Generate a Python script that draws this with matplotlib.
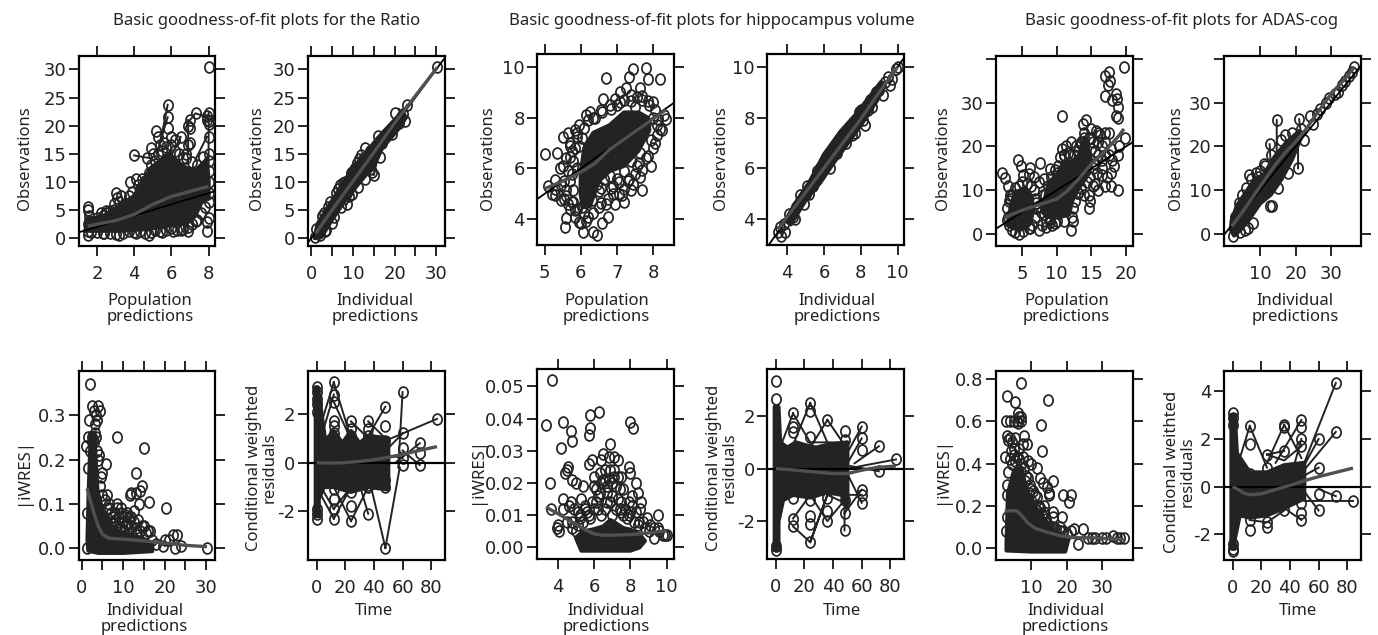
import matplotlib
matplotlib.use("Agg")
import matplotlib.pyplot as plt
from matplotlib.path import Path
from matplotlib.transforms import Affine2D

nan = float("nan")

W, H = 1378, 635
DARK = "#232323"
LOESS = "#505050"

# ---- Ratio, population predictions
p1_x = [1.5, 1.5, 1.5, 1.6, 1.5, 2.0, 2.3, 2.5, 2.7, 2.9, 3.0, 3.1, 3.3, 3.5, 3.8, 4.0, 4.1, 4.4, 4.7, 4.9, 5.0, 5.1, 5.2, 5.3,
        5.4, 5.6, 5.7, 5.8, 5.8, 5.8, 6.0, 6.2, 6.5, 6.8, 6.9, 6.9, 7.0, 7.0, 7.3, 7.9, 7.9, 8.0, 8.0, 8.0, 8.0, 8.0,
        8.0, 8.0, 7.9, 7.9, 8.0, 7.3, 6.9, 6.1, 4.8, 4.1, 3.2, 2.4, 1.5, 7.0, 7.6, 6.5, 5.5]
p1_y = [5.5, 5.0, 0.6, 3.0, 1.2, 3.5, 3.9, 4.5, 4.9, 5.0, 8.0, 7.2, 7.4, 6.0, 10.0, 14.7, 10.5, 10.5, 14.2, 16.0, 15.0, 12.0,
        19.0, 18.0, 16.5, 17.0, 14.0, 23.7, 21.5, 19.5, 18.0, 17.5, 18.0, 15.0, 16.5, 20.0, 21.0, 19.5, 22.2, 21.8, 21.0,
        22.3, 20.9, 20.3, 18.0, 15.0, 13.8, 30.4, 1.3, 2.8, 3.6, 3.0, 1.3, 1.2, 0.6, 0.9, 0.6, 0.9, 2.5, 17.0, 12.0, 1.5, 1.1]
p1_more_x = [2.2, 2.5, 2.8, 3.2, 3.4, 3.7, 3.9, 4.2, 4.3, 4.6, 4.8, 4.9, 5.1, 5.3, 5.5, 5.7, 6.0, 6.2, 6.4, 6.6, 6.8, 7.1, 7.4, 7.7, 8.0,
             8.0, 8.0, 8.0, 7.8, 7.6, 7.4, 7.1, 6.9, 6.6, 6.3, 6.0, 5.7, 5.4, 5.1, 4.9, 4.6, 4.3, 4.0, 3.7, 3.4, 3.0, 2.7, 2.3, 2.0, 1.7,
             1.6, 2.9, 3.6, 7.5]
p1_more_y = [4.4, 4.8, 4.4, 6.5, 5.2, 7.5, 8.2, 9.5, 8.8, 10.2, 11.5, 13.0, 13.8, 15.0, 15.5, 16.2, 16.5, 15.5, 15.0, 14.2, 14.2, 13.5, 13.0, 14.5, 12.0,
             10.0, 8.0, 6.5, 5.5, 4.5, 3.2, 2.5, 2.0, 1.6, 1.5, 1.8, 1.5, 1.3, 1.4, 1.0, 0.9, 1.3, 1.1, 1.2, 0.9, 0.7, 0.9, 0.9, 1.0, 1.0,
             4.0, 6.0, 4.6, 8.0]
p1_seg_x = [5.8, 5.4, nan, 4.0, 4.9, nan, 6.5, 5.9, nan, 6.9, 6.9, nan, 7.0, 7.3, 7.9, nan, 7.9, 7.3, nan, 5.8, 5.2, nan, 8.0, 8.0]
p1_seg_y = [23.7, 17.0, nan, 14.7, 14.2, nan, 18.0, 14.0, nan, 21.0, 15.0, nan, 21.0, 22.2, 21.5, nan, 18.0, 14.0, nan, 21.5, 15.0, nan, 22.3, 13.0]
p1_dense_x = [1.4, 1.5, 2.3, 3.1, 4.0, 4.9, 5.5, 5.9, 6.3, 6.8, 7.3, 7.9, 8.0, 8.0, 7.6, 7.3, 6.8, 5.8, 4.7, 3.1, 1.6]
p1_dense_y = [1.3, 3.4, 3.8, 5.5, 7.5, 12.5, 14.0, 15.0, 13.5, 12.5, 12.0, 14.0, 10.3, 7.0, 6.5, 4.0, 2.6, 2.2, 1.6, 1.3, 1.3]
p1_loess_x = [1.5, 2.2, 3.0, 4.0, 5.0, 6.0, 7.0, 8.0]
p1_loess_y = [2.1, 2.6, 3.1, 4.2, 6.0, 7.4, 8.3, 9.2]

# ---- Ratio, individual predictions
p2_x = [23.0, 20.2, 21.5, 22.4, 30.3, 16.0, 15.0, 14.6, 8.5, 5.0, 13.0, 11.5, 6.0, 18.0, 19.5, 21.0, 12.0, 10.0, 7.0, 4.0, 3.0, 2.0, 1.0, 1.2, 17.0, 13.5, 9.0, 3.5, 22.0, 16.5,
        4.5, 6.5, 7.5, 8.0, 9.5, 10.5, 11.0, 12.5, 14.0, 2.5, 3.2, 5.5, 7.2, 9.8, 11.2, 12.8, 14.2]
p2_y = [23.7, 22.2, 21.5, 20.8, 30.4, 18.2, 11.2, 11.8, 6.0, 2.6, 16.0, 14.0, 8.0, 18.5, 18.5, 20.5, 14.8, 12.0, 9.5, 5.5, 4.5, 0.5, 0.2, 1.6, 17.0, 13.0, 7.5, 1.5, 22.0, 14.5,
        6.5, 8.7, 9.8, 10.0, 11.5, 12.5, 13.3, 14.0, 15.5, 4.0, 1.2, 3.8, 5.5, 7.8, 9.0, 10.5, 12.3]
p2_seg_x = [15.0, 16.5, nan, 22.4, 21.0, nan, 23.0, 21.0, nan, 8.5, 10.0]
p2_seg_y = [11.2, 16.0, nan, 20.8, 23.0, nan, 23.7, 21.0, nan, 6.0, 8.0]
p2_dense_x = [0.8, 2.4, 5.0, 8.0, 12.0, 15.0, 17.0, 21.0, 22.5, 22.0, 20.0, 16.0, 13.0, 10.0, 7.0, 4.0, 1.5]
p2_dense_y = [0.0, 0.2, 3.3, 6.6, 10.3, 12.8, 16.0, 19.5, 21.5, 22.5, 21.0, 17.8, 15.0, 12.5, 9.0, 5.5, 2.5]
p2_loess_x = [1.0, 5.0, 10.0, 15.0, 20.0, 25.0, 30.3]
p2_loess_y = [0.8, 5.0, 10.1, 15.2, 20.4, 25.3, 30.4]

# ---- Hippocampus, population predictions
p3_x = [5.0, 5.35, 5.43, 5.5, 5.65, 5.1, 5.3, 5.3, 5.45, 5.6, 5.6, 5.57, 5.85, 6.07, 6.35, 6.45, 6.6, 6.75, 6.95, 6.75, 7.2, 7.4, 7.7,
        7.7, 8.0, 8.2, 8.35, 8.2, 7.8, 7.45, 7.35, 7.85, 6.7, 6.63, 6.95, 7.25, 7.65, 6.15, 5.95, 5.9, 5.7, 5.75, 5.8, 6.03,
        6.35, 6.55, 5.55, 5.6, 5.2, 5.45, 5.75, 5.85, 6.1, 6.3, 6.5, 6.85, 7.05, 7.35, 7.55, 7.8, 7.95, 8.1, 8.25, 8.3, 7.9,
        7.5, 7.1, 6.85, 6.6, 6.4, 7.1, 7.4, 7.7, 7.85, 8.05, 8.15, 6.9, 7.15, 7.45, 7.65, 5.95, 5.7, 5.9, 6.2, 6.05, 6.0]
p3_y = [6.56, 6.6, 6.0, 7.25, 7.4, 5.3, 5.55, 4.95, 4.75, 4.9, 4.05, 3.7, 4.1, 3.5, 3.5, 3.4, 3.85, 4.1, 4.6, 4.8, 4.7, 5.15, 5.15,
        5.95, 6.8, 7.55, 7.95, 9.5, 9.95, 9.9, 9.6, 9.5, 9.55, 8.75, 8.75, 9.15, 9.15, 8.1, 7.7, 7.25, 6.45, 5.8, 5.15, 4.5,
        4.25, 4.65, 4.8, 5.15, 5.0, 5.35, 4.7, 4.35, 4.25, 4.75, 5.1, 5.25, 5.45, 5.6, 6.1, 6.4, 7.1, 7.3, 7.5, 8.1, 8.5,
        8.4, 8.6, 8.35, 8.2, 8.0, 9.0, 8.9, 8.85, 8.65, 8.3, 7.95, 5.0, 4.95, 5.4, 5.65, 6.9, 6.9, 7.4, 7.9, 6.0, 3.85]
p3_more_x = [5.7, 5.85, 5.8, 5.65, 5.9, 5.55, 5.7, 5.8, 5.9, 5.7, 5.95, 6.2, 6.5, 6.7, 6.9, 7.05, 7.2, 7.3, 7.5, 7.6, 7.85, 7.95, 8.05, 8.1,
             8.0, 8.0, 7.7, 7.55, 7.4, 7.2, 7.0, 6.8, 6.55, 6.35, 6.25, 6.1, 6.05, 5.85, 5.75, 5.6, 5.5, 5.3, 5.65, 6.15, 6.55, 6.3,
             6.25, 6.45, 6.65, 6.8, 7.0, 7.2, 7.4, 7.65, 7.8]
p3_more_y = [7.0, 6.8, 6.3, 5.9, 6.0, 5.5, 5.5, 4.7, 4.4, 4.4, 3.9, 4.1, 4.5, 4.6, 5.3, 5.0, 5.2, 5.5, 5.8, 6.2, 6.5, 6.1, 7.0, 7.7,
             8.0, 8.6, 8.7, 8.8, 8.65, 8.7, 8.5, 8.5, 8.3, 8.0, 8.2, 7.6, 7.2, 7.5, 6.7, 6.4, 6.1, 5.2, 4.6, 3.95, 5.25, 5.9,
             5.5, 5.4, 5.6, 5.7, 5.6, 5.9, 6.3, 6.6, 7.8]
p3_dense_x = [6.05, 6.25, 6.5, 6.8, 7.2, 7.6, 7.9, 7.85, 7.6, 7.2, 6.8, 6.35, 6.1, 6.0, 6.0]
p3_dense_y = [4.5, 4.5, 5.5, 5.9, 6.1, 6.7, 7.5, 8.0, 8.2, 8.2, 7.7, 7.4, 6.8, 5.8, 5.0]
p3_loess_x = [5.0, 5.5, 6.0, 6.4, 6.8, 7.2, 7.6, 8.0, 8.35]
p3_loess_y = [5.2, 5.5, 5.85, 6.2, 6.75, 7.15, 7.55, 7.95, 8.3]

# ---- Hippocampus, individual predictions
p4_x = [3.5, 3.65, 3.8, 3.9, 4.5, 4.4, 5.0, 4.9, 5.8, 8.0, 8.2, 8.1, 9.0, 9.2, 9.5, 9.6, 9.9, 10.0, 9.7, 3.6, 6.9, 7.5, 5.4, 6.5, 8.6,
        4.1, 4.7, 5.2, 5.6, 6.1, 6.7, 7.2, 7.7, 8.5, 8.8, 9.3, 4.3, 5.1, 6.3, 7.0, 7.9, 8.4]
p4_y = [3.5, 3.35, 3.8, 3.5, 4.5, 4.0, 5.0, 4.6, 6.0, 8.3, 7.7, 7.9, 9.1, 8.9, 9.6, 9.3, 9.9, 10.0, 9.5, 3.7, 7.1, 7.3, 5.3, 6.6, 8.4,
        4.2, 4.95, 5.0, 5.9, 6.4, 6.6, 7.0, 7.4, 8.7, 9.0, 9.4, 4.1, 5.3, 6.0, 7.3, 8.2, 8.3]
p4_dense_x = [4.2, 5.0, 5.8, 6.5, 7.3, 8.0, 8.9, 9.3, 9.1, 8.4, 7.7, 6.9, 6.0, 5.2, 4.5, 3.9]
p4_dense_y = [3.8, 4.75, 5.45, 6.2, 7.0, 7.7, 8.7, 9.3, 9.4, 8.75, 8.1, 7.45, 6.55, 5.45, 4.7, 3.95]
p4_loess_x = [3.5, 5.0, 6.5, 8.0, 9.0, 10.0]
p4_loess_y = [3.6, 5.05, 6.5, 7.95, 9.0, 10.0]

# ---- ADAS-cog, population predictions
p5_x = [2.1, 2.6, 3.0, 3.2, 3.1, 2.8, 4.4, 4.8, 5.2, 6.0, 6.7, 7.6, 8.1, 8.0, 7.9, 9.0, 9.3, 10.0, 10.7, 10.8, 11.3, 11.9, 12.0, 13.0,
        14.0, 14.2, 13.8, 15.0, 15.6, 16.2, 17.0, 17.5, 18.7, 17.7, 17.4, 17.0, 19.7, 16.9, 17.6, 18.5, 18.0, 18.8, 18.9, 18.5,
        19.8, 19.0, 18.0, 17.9, 17.2, 16.9, 18.8, 17.9, 15.9, 15.2, 14.8, 14.7, 13.9, 12.3, 12.1, 7.5, 8.4, 6.2, 13.0, 14.6, 15.5, 16.5,
        5.5, 6.2, 7.5, 9.0, 9.8, 11.0, 12.5, 13.5, 15.0, 16.6]
p5_y = [14.0, 12.9, 11.0, 9.0, 7.5, 3.2, 17.0, 15.5, 13.5, 13.8, 13.0, 16.2, 12.5, 9.0, 2.0, 14.8, 2.0, 14.0, 27.0, 19.5, 20.0, 18.0, 21.0, 19.0,
        23.0, 26.0, 25.0, 24.0, 23.5, 22.5, 23.0, 23.0, 30.7, 35.0, 34.0, 31.5, 38.0, 36.0, 37.0, 32.0, 30.5, 29.0, 26.5, 27.0,
        22.0, 20.0, 17.0, 14.0, 13.0, 11.0, 10.0, 11.0, 10.0, 11.0, 7.5, 6.0, 9.0, 3.0, 1.0, 1.0, 1.7, 1.5, 9.5, 9.0, 11.5, 13.5,
        3.0, 15.0, 12.0, 3.5, 2.5, 18.0, 16.0, 20.5, 19.5, 17.0]
p5_more_x = [3.0, 2.9, 3.2, 3.6, 4.0, 4.5, 5.0, 5.7, 6.3, 6.7, 6.9, 7.0, 6.8, 6.4, 6.0, 5.2, 4.6, 4.0, 3.5, 3.1, 7.0, 7.5, 7.8, 8.3, 8.7, 9.2, 9.7, 10.2,
             10.5, 11.0, 11.7, 12.5, 12.8, 13.5, 14.0, 14.6, 15.2, 15.5, 16.0, 16.5, 17.0, 15.5, 15.3, 14.8, 14.3, 13.5, 13.0, 12.7, 12.3, 12.2, 11.0, 10.0,
             9.0, 8.5, 8.2, 15.8, 16.5, 17.5, 17.0, 16.0, 15.0, 16.0, 18.2, 17.8, 18.9]
p5_more_y = [4.0, 6.0, 8.0, 9.0, 10.5, 11.0, 12.0, 11.5, 11.0, 10.0, 8.0, 6.0, 4.0, 2.0, 1.5, 0.7, 0.0, 0.5, 1.0, 2.0, 7.0, 6.5, 5.0, 9.0, 11.0, 13.0, 14.7, 15.5,
             17.5, 18.0, 18.5, 18.0, 20.0, 21.0, 22.0, 22.0, 21.0, 19.0, 18.0, 20.0, 18.0, 16.0, 15.0, 13.0, 12.0, 10.5, 9.5, 7.5, 6.0, 4.0, 3.0, 3.0,
             2.7, 3.0, 4.5, 14.0, 15.0, 18.0, 21.0, 21.0, 22.0, 23.0, 15.5, 19.5, 18.0]
p5_dense_x = [3.0, 3.4, 4.0, 5.5, 6.4, 6.6, 6.2, 5.5, 4.6, 3.5, 3.0]
p5_dense_y = [3.0, 6.5, 9.5, 10.5, 8.5, 5.5, 2.5, 1.5, 1.0, 1.5, 2.0]
p5_dense2_x = [7.9, 8.8, 10.2, 11.0, 12.2, 13.2, 14.0, 14.3, 15.0, 14.7, 13.2, 12.2, 11.8, 10.2, 8.6, 8.0]
p5_dense2_y = [5.5, 11.5, 14.0, 16.5, 16.5, 18.0, 22.0, 21.0, 16.5, 14.0, 10.5, 7.5, 4.5, 3.8, 4.0, 5.0]
p5_loess_x = [2.5, 4.0, 6.0, 8.0, 10.0, 11.5, 13.0, 15.0, 17.0, 19.0, 19.7]
p5_loess_y = [3.8, 4.8, 6.0, 7.0, 8.0, 9.8, 12.3, 16.0, 19.0, 22.5, 24.0]

# ---- ADAS-cog, individual predictions
p6_x = [14.7, 12.7, 16.0, 17.0, 19.0, 21.0, 20.7, 15.0, 12.8, 13.5, 7.0, 9.0, 5.8, 21.5, 24.0, 26.0, 27.0, 28.5, 29.5, 31.0,
        32.0, 33.0, 34.0, 35.0, 36.0, 36.5, 25.0, 22.5, 2.5, 10.0, 11.5, 8.0, 18.0, 4.0, 5.0, 6.0, 7.5, 9.5, 11.0, 13.0, 3.0, 4.5, 6.5]
p6_y = [26.0, 20.5, 21.5, 22.5, 23.0, 26.2, 15.0, 10.5, 6.5, 6.5, 13.5, 14.0, 1.0, 24.0, 27.0, 27.5, 28.5, 30.0, 31.0, 32.0,
        32.5, 34.0, 35.0, 36.0, 37.0, 38.0, 25.0, 21.5, -0.5, 14.5, 15.5, 2.5, 14.0, 7.0, 9.0, 10.5, 12.5, 13.0, 16.0, 18.0, 4.0, 0.5, 1.5]
p6_seg_x = [14.7, 14.7, nan, 20.7, 20.7, nan, 21.0, 21.5, nan, 12.7, 13.0]
p6_seg_y = [26.0, 16.0, nan, 15.0, 21.0, nan, 26.2, 23.0, nan, 20.5, 16.0]
p6_dense_x = [1.8, 2.7, 4.5, 7.0, 10.0, 13.0, 16.0, 19.0, 22.0, 21.0, 17.0, 14.0, 11.0, 8.5, 6.0, 3.5, 2.0]
p6_dense_y = [1.0, -0.3, 1.0, 3.5, 7.0, 9.0, 12.5, 17.0, 23.0, 23.5, 20.5, 17.5, 13.5, 12.5, 9.5, 6.5, 3.0]
p6_loess_x = [2.0, 5.0, 8.0, 11.0, 14.0, 17.0, 20.0, 23.0, 26.0, 30.0, 34.0, 36.5]
p6_loess_y = [1.8, 5.0, 8.5, 12.0, 15.5, 18.5, 21.0, 24.0, 27.5, 32.0, 35.5, 38.0]

# ---- Ratio, iWRES
p7_x = [2.0, 2.5, 1.8, 3.0, 4.0, 4.3, 3.5, 3.3, 3.8, 1.0, 1.5, 2.5, 4.0, 5.0, 5.9, 8.5, 15.0, 13.2, 14.6, 12.0, 11.7, 8.6, 9.5,
        11.0, 12.5, 13.0, 14.0, 16.3, 13.8, 20.2, 22.0, 23.0, 20.0, 21.0, 30.2, 16.0, 17.0, 15.0, 10.0, 8.0, 7.5, 6.5, 6.0, 9.0,
        10.5, 11.5, 12.0, 7.0, 8.5, 13.0, 18.0, 19.5, 22.5, 24.0, 1.3]
p7_y = [0.37, 0.32, 0.29, 0.31, 0.32, 0.31, 0.30, 0.28, 0.29, 0.23, 0.25, 0.25, 0.2, 0.17, 0.19, 0.25, 0.225, 0.17, 0.14, 0.125, 0.12, 0.1, 0.09,
        0.08, 0.085, 0.125, 0.13, 0.105, 0.1, 0.09, 0.03, 0.03, 0.02, 0.02, 0.0, 0.04, 0.02, 0.05, 0.07, 0.08, 0.055, 0.09, 0.12, 0.06,
        0.05, 0.045, 0.07, 0.04, 0.03, 0.03, 0.01, 0.005, 0.0, 0.005, 0.0]
p7_more_x = [4.5, 5.0, 5.5, 6.0, 6.5, 7.0, 7.5, 8.0, 8.5, 9.0, 9.5, 10.0, 10.5, 11.0, 11.5, 12.0, 12.5, 13.0, 13.5, 14.0, 14.5, 15.5, 16.5, 5.2, 6.2, 7.2,
             8.2, 9.2, 10.2, 11.2, 3.0, 3.5, 4.2, 1.2, 1.5, 2.0, 2.4, 3.2, 3.8, 4.6]
p7_more_y = [0.14, 0.12, 0.11, 0.09, 0.1, 0.08, 0.07, 0.065, 0.09, 0.07, 0.08, 0.06, 0.075, 0.055, 0.07, 0.05, 0.06, 0.045, 0.065, 0.04, 0.05, 0.035, 0.04, 0.07, 0.06,
             0.06, 0.05, 0.045, 0.04, 0.035, 0.24, 0.25, 0.21, 0.08, 0.18, 0.22, 0.24, 0.26, 0.22, 0.16]
p7_dense_x = [1.4, 1.7, 2.2, 3.0, 3.8, 5.0, 7.0, 10.0, 14.0, 17.0, 17.0, 10.0, 4.0, 1.6]
p7_dense_y = [0.02, 0.13, 0.26, 0.26, 0.13, 0.085, 0.05, 0.032, 0.025, 0.012, -0.006, -0.01, -0.01, -0.005]
p7_loess_x = [1.3, 2.0, 3.0, 4.0, 5.0, 6.5, 10.0, 15.0, 20.0, 25.0, 30.2]
p7_loess_y = [0.135, 0.11, 0.078, 0.05, 0.032, 0.023, 0.021, 0.017, 0.012, 0.007, 0.004]

# ---- Ratio, conditional weighted residuals
p8_x = [0, 0, 0, 0, 0, 0, 12, 12, 12, 12, 12, 12, 12, 12, 24, 24, 24, 24, 36, 36, 36, 36, 48, 48, 48, 48, 60, 60, 60, 60, 60, 72, 72, 72, 84,
        48, 48, 36, 36, 24, 24, 12, 12, 0, 0]
p8_y = [3.1, 2.9, 2.6, 2.4, -2.3, -2.1, 3.3, 2.8, 2.5, 1.7, 1.5, -1.5, -1.9, -2.3, 1.7, 1.4, -1.8, -2.4, 1.7, 1.4, -1.0, -2.1, 2.3, 1.5, -1.0, -3.5,
        2.9, 1.2, 0.6, 0.2, -0.1, 0.8, 0.4, -0.1, 1.8, 0.9, -0.7, 1.1, -0.9, 1.1, -1.2, 1.2, -1.1, 2.1, -1.9]
p8_seg_x = [48, 36, nan, 48, 58, nan, 60, 57, nan, 84, 48, nan, 72, 55, nan, 48, 36, nan, 12, 0, nan, 12, 24, nan, 12, 0, nan, 12, 24, nan, 24, 12, nan,
            24, 36, nan, 36, 28, nan, 12, 3, nan, 12, 22, nan, 72, 60, nan, 60, 50, nan, 60, 50, nan, 12, 3, nan, 12, 24, nan, 24, 36, nan, 36, 48]
p8_seg_y = [-3.5, -0.5, nan, -3.5, -0.2, nan, 2.9, -0.2, nan, 1.8, 0.9, nan, 0.8, 0.0, nan, 2.3, 1.1, nan, 3.3, 1.0, nan, 3.3, 1.0, nan, -2.3, -1.0, nan,
            -2.3, -1.0, nan, -2.4, -1.0, nan, -2.4, -1.0, nan, -2.1, -0.5, nan, 2.8, 1.0, nan, 2.5, 1.2, nan, -0.1, 0.5, nan, 0.2, 0.3, nan, 1.2, 0.6, nan,
            -1.9, -1.0, nan, -1.9, -1.0, nan, 1.7, 1.0, nan, 1.7, 1.0]
p8_dense_x = [-0.6, -0.6, 0.8, 3.0, 6.0, 12.0, 18.0, 24.0, 30.0, 36.0, 50.0, 50.0, 36.0, 24.0, 12.0, 5.0, 1.5, 1.5]
p8_dense_y = [-2.2, 3.1, 3.1, 2.2, 0.9, 1.3, 0.8, 1.3, 0.8, 1.1, 1.0, -1.1, -1.0, -1.2, -1.0, -1.0, -1.5, -2.2]
p8_loess_x = [0, 10, 20, 30, 40, 50, 60, 70, 84]
p8_loess_y = [0.0, -0.02, 0.0, 0.05, 0.12, 0.22, 0.34, 0.48, 0.66]

# ---- Hippocampus, iWRES
p9_x = [3.7, 3.35, 4.3, 4.75, 4.8, 4.2, 5.8, 5.75, 5.7, 6.25, 8.0, 8.15, 3.55, 3.65, 4.55, 4.4, 4.5, 4.8, 5.0, 5.4, 5.3, 6.4, 5.5, 5.7, 5.9, 6.0,
        6.1, 6.5, 6.6, 6.9, 7.1, 7.3, 7.5, 7.9, 8.0, 8.3, 8.4, 8.6, 8.55, 8.9, 9.1, 9.5, 9.6, 9.9, 10.0, 4.3, 4.0, 3.95, 4.05, 4.7, 5.1,
        5.2, 5.6, 6.2, 6.7, 7.0, 7.3, 7.6, 7.9, 8.1, 8.7, 9.3]
p9_y = [0.052, 0.038, 0.039, 0.036, 0.033, 0.031, 0.041, 0.037, 0.035, 0.042, 0.039, 0.037, 0.02, 0.012, 0.025, 0.023, 0.024, 0.021, 0.02, 0.019, 0.015,
        0.027, 0.013, 0.026, 0.027, 0.022, 0.018, 0.029, 0.024, 0.032, 0.028, 0.027, 0.022, 0.025, 0.023, 0.02, 0.017, 0.014, 0.012, 0.009, 0.007, 0.01,
        0.005, 0.004, 0.004, 0.015, 0.007, 0.006, 0.005, 0.014, 0.011, 0.009, 0.011, 0.012, 0.017, 0.02, 0.015, 0.018, 0.014, 0.013, 0.008, 0.003]
p9_more_x = [4.3, 4.6, 4.9, 5.2, 5.5, 5.8, 6.1, 6.3, 6.5, 6.7, 6.9, 7.1, 7.3, 7.5, 7.7, 7.9, 8.1, 8.3, 8.5, 4.5, 4.8, 5.1, 5.4, 5.7, 6.0, 6.2, 6.4, 6.6, 6.8, 7.0,
             7.2, 7.4, 7.6, 7.8, 8.0, 8.2, 8.4, 6.0, 6.3, 6.6, 6.9, 7.2, 7.5, 7.0, 6.7, 6.4, 6.8, 7.1, 7.4, 5.9, 8.8, 9.0, 9.3, 9.5, 9.8, 4.8, 5.0]
p9_more_y = [0.012, 0.013, 0.012, 0.01, 0.012, 0.009, 0.014, 0.017, 0.021, 0.019, 0.024, 0.024, 0.022, 0.014, 0.012, 0.01, 0.016, 0.011, 0.008, 0.008, 0.008, 0.007, 0.008, 0.01, 0.012,
             0.016, 0.02, 0.021, 0.028, 0.016, 0.019, 0.012, 0.01, 0.009, 0.011, 0.008, 0.007, 0.019, 0.023, 0.012, 0.014, 0.012, 0.011, 0.01, 0.014, 0.01, 0.021, 0.022, 0.018, 0.014, 0.006,
             0.005, 0.006, 0.006, 0.004, 0.006, 0.005]
p9_dense_x = [5.0, 5.4, 5.9, 6.5, 6.9, 7.2, 7.6, 8.0, 8.5, 8.8, 8.5, 8.0, 7.0, 6.0, 5.3]
p9_dense_y = [0.003, 0.005, 0.0055, 0.0065, 0.0085, 0.0075, 0.006, 0.0055, 0.004, 0.002, 0.0, -0.001, -0.001, -0.001, -0.001]
p9_loess_x = [3.35, 4.0, 4.5, 5.0, 5.5, 6.0, 6.5, 7.0, 7.5, 8.0, 8.5, 9.0, 10.0]
p9_loess_y = [0.0125, 0.0105, 0.0088, 0.0072, 0.0055, 0.0042, 0.0038, 0.0038, 0.0039, 0.004, 0.0042, 0.0045, 0.0052]

# ---- Hippocampus, conditional weighted residuals
p10_x = [0, 0, 0, 0, 12, 12, 12, 12, 24, 24, 24, 24, 24, 36, 36, 36, 48, 48, 48, 48, 60, 60, 60, 60, 60, 60, 72, 72, 84, 12, 24, 36, 24, 36, 48, 12]
p10_y = [3.35, 2.65, -3.1, -2.95, 2.1, 1.6, -1.9, -2.2, 2.5, 2.2, -1.8, -2.1, -2.8, 1.85, -1.6, -2.0, 1.45, 1.1, -1.7, -2.35, 1.6, 1.15, 0.7, -0.8, -1.0, -1.3,
         0.85, -0.1, 0.35, 1.4, 1.2, 0.7, -1.2, -1.1, -1.2, -1.1]
p10_seg_x = [12, 3, nan, 12, 24, nan, 24, 12, nan, 24, 36, nan, 36, 24, nan, 36, 48, nan, 24, 48, nan, 12, 24, 36, nan, 24, 36, 48, nan, 48, 60, nan, 48, 60, nan,
             48, 60, nan, 84, 50, nan, 72, 55, nan, 72, 52, nan, 60, 50, nan, 60, 50, nan, 48, 48, nan, 12, 24, 36, 48]
p10_seg_y = [2.1, 0.8, nan, 2.1, 1.0, nan, 2.5, 0.9, nan, 2.5, 1.0, nan, 1.85, 0.8, nan, 1.85, 0.9, nan, 1.0, 1.0, nan, -2.2, -2.8, -1.0, nan, -2.8, -1.0, -1.3, nan,
             -1.7, -0.8, nan, -1.0, -1.0, nan, 0.4, 1.6, nan, 0.35, 0.0, nan, 0.85, 0.2, nan, -0.1, 0.1, nan, -1.3, -0.2, nan, 1.15, 0.2, nan, -2.35, -0.5, nan, -1.9, -1.0, -2.0, -1.2]
p10_dense_x = [-0.8, -0.8, 1.8, 3.0, 8.0, 14.0, 20.0, 28.0, 36.0, 50.0, 50.0, 46.0, 36.0, 24.0, 12.0, 5.0, 1.8, 1.8]
p10_dense_y = [-3.1, 2.35, 2.35, 1.0, 0.8, 1.0, 0.9, 0.8, 0.9, 1.0, -1.5, -1.0, -0.9, -1.1, -1.0, -1.2, -2.0, -3.1]
p10_loess_x = [0, 10, 20, 30, 40, 50, 60, 70, 84]
p10_loess_y = [0.0, -0.04, -0.09, -0.14, -0.19, -0.19, -0.06, 0.04, 0.1]

# ---- ADAS-cog, iWRES
p11_x = [3.0, 7.2, 5.4, 6.1, 6.5, 7.0, 14.7, 12.8, 2.8, 4.0, 5.0, 5.9, 6.3, 7.0, 13.0, 8.0, 8.7, 3.2, 3.5, 4.0, 4.5, 5.5, 6.5, 7.5, 9.0, 10.0, 11.5, 12.5,
        13.2, 14.5, 16.0, 15.0, 15.0, 16.2, 19.0, 20.5, 21.2, 16.0, 22.0, 24.5, 26.0, 27.0, 28.0, 30.0, 31.0, 33.0, 34.0, 35.0, 36.0, 18.5, 12.0, 13.5, 18.0, 23.0, 2.7]
p11_y = [0.72, 0.78, 0.69, 0.64, 0.62, 0.62, 0.7, 0.58, 0.6, 0.6, 0.6, 0.6, 0.59, 0.6, 0.46, 0.53, 0.49, 0.53, 0.51, 0.52, 0.5, 0.52, 0.47, 0.49, 0.41, 0.4, 0.38, 0.33,
        0.31, 0.29, 0.32, 0.26, 0.25, 0.17, 0.25, 0.22, 0.25, 0.15, 0.09, 0.09, 0.05, 0.05, 0.05, 0.05, 0.05, 0.06, 0.05, 0.05, 0.05, 0.15, 0.19, 0.2, 0.1, 0.02, 0.43]
p11_more_x = [3.0, 3.5, 4.0, 4.5, 5.0, 5.5, 6.0, 6.5, 7.0, 7.5, 8.0, 8.5, 9.0, 9.5, 10.0, 10.5, 11.0, 11.5, 12.0, 12.5, 13.0, 13.5, 14.0, 14.5, 15.0, 16.0, 17.0, 18.0, 19.0, 20.0, 21.0,
             3.2, 3.0, 2.9, 4.2, 5.2, 6.2, 7.2, 8.2, 9.2, 10.2, 11.2, 12.2, 13.2]
p11_more_y = [0.3, 0.36, 0.42, 0.4, 0.44, 0.41, 0.43, 0.42, 0.4, 0.43, 0.38, 0.34, 0.33, 0.3, 0.28, 0.27, 0.25, 0.24, 0.2, 0.19, 0.16, 0.17, 0.14, 0.12, 0.1, 0.1, 0.09, 0.08, 0.08, 0.07, 0.08,
             0.25, 0.15, 0.08, 0.46, 0.47, 0.37, 0.36, 0.32, 0.26, 0.22, 0.18, 0.15, 0.12]
p11_dense_x = [3.0, 3.4, 5.0, 7.0, 9.0, 11.0, 14.0, 17.0, 20.5, 19.5, 10.0, 3.0]
p11_dense_y = [0.02, 0.26, 0.36, 0.38, 0.26, 0.2, 0.12, 0.07, 0.05, -0.015, -0.015, -0.01]
p11_loess_x = [2.5, 4.0, 6.0, 7.5, 9.0, 11.0, 14.0, 18.0, 22.0, 27.0, 32.0, 36.0]
p11_loess_y = [0.175, 0.178, 0.176, 0.15, 0.12, 0.095, 0.078, 0.06, 0.05, 0.05, 0.045, 0.04]

# ---- ADAS-cog, conditional weighted residuals
p12_x = [0, 0, 0, 0, 0, 0, 12, 12, 12, 12, 24, 24, 24, 36, 36, 36, 48, 48, 48, 48, 48, 48, 60, 60, 60, 60, 72, 72, 72, 84, 24, 36, 48, 12]
p12_y = [3.1, 2.9, -2.4, -2.6, -2.7, 2.6, 2.55, 1.8, -1.8, 0.55, 1.35, -1.5, -1.7, 2.6, 2.5, 1.5, 2.8, 2.5, 2.0, 1.7, -1.1, -1.4, 2.0, 0.8, -0.3, -1.0, 4.35, 2.3, -0.4, -0.6, 0.8, -1.0, -0.7, -1.4]
p12_seg_x = [72, 50, nan, 72, 50, nan, 72, 60, nan, 84, 50, nan, 36, 24, nan, 36, 48, nan, 12, 24, nan, 12, 3, nan, 36, 24, nan, 60, 50, nan, 60, 50, nan, 48, 36, nan, 48, 30, nan, 48, 36, 24, nan, 48, 42, nan, 60, 48, nan, 36, 24, 12]
p12_seg_y = [4.35, 1.0, nan, 2.3, 0.7, nan, -0.4, -0.1, nan, -0.6, -0.6, nan, 2.6, 1.0, nan, 2.6, 1.2, nan, 2.55, 0.8, nan, 2.55, 0.8, nan, 1.5, 1.35, nan, 2.0, 0.9, nan, -1.0, -0.2, nan, -1.4, -0.9, nan, 2.8, 1.0, nan,
            1.7, 1.1, 1.35, nan, 2.0, 0.7, nan, 0.8, 0.4, nan, -1.0, -1.5, -1.4]
p12_dense_x = [-0.8, -0.8, 1.5, 3.0, 12.0, 24.0, 36.0, 50.0, 50.0, 36.0, 24.0, 12.0, 5.0, 1.5, 1.5]
p12_dense_y = [-2.6, 3.0, 3.0, 1.4, 0.6, 0.6, 0.9, 1.0, -0.5, -0.9, -1.2, -1.3, -1.2, -2.2, -2.6]
p12_loess_x = [0, 4, 8, 12, 20, 30, 40, 50, 60, 72, 84]
p12_loess_y = [0.0, -0.12, -0.27, -0.34, -0.3, -0.12, 0.05, 0.25, 0.42, 0.6, 0.78]

# slightly tall circles, as in the scan
marker = Path.unit_circle().transformed(Affine2D().scale(0.85, 1.0))


def axes_px(left, top, right, bottom):
    return fig.add_axes([left / W, 1 - bottom / H, (right - left) / W, (bottom - top) / H])


def panel(box, xlim, ylim, xticks, xlabels, yticks, ylabels, x, y, loess_x, loess_y,
          dense=(), seg=None, diag=False, zero=False):
    ax = axes_px(*box)
    for dx, dy in dense:
        # overplotted core, edge widened so the corners come out round
        ax.fill(dx, dy, facecolor=DARK, edgecolor=DARK, lw=3, joinstyle="round", zorder=1)
    if seg:
        ax.plot(seg[0], seg[1], color=DARK, lw=1.4, zorder=2)
    ax.plot(x, y, ls="none", marker=marker, ms=7.8, mfc="none", mec=DARK, mew=1.25, zorder=3)
    if diag:
        ax.plot([-10, 100], [-10, 100], color="black", lw=1.3, zorder=4)
    if zero:
        ax.axhline(0, color="black", lw=1.6, zorder=4)
    ax.plot(loess_x, loess_y, color=LOESS, lw=2.4, zorder=5, solid_capstyle="butt")
    ax.set_xlim(xlim)
    ax.set_ylim(ylim)
    ax.set_xticks(xticks, xlabels)
    ax.set_yticks(yticks, ylabels)
    ax.tick_params(axis="both", which="major", length=7.5, width=1.2, labelsize=13,
                   top=True, right=True, color="black", labelcolor="#222222")
    ax.tick_params(axis="x", pad=6)
    ax.tick_params(axis="y", pad=1.5)
    for lab in ax.get_xticklabels() + ax.get_yticklabels():
        lab.set_fontfamily("DejaVu Sans")
    for s in ax.spines.values():
        s.set_linewidth(1.6)
    return ax


def label(px, py, text, rotation=0):
    fig.text(px / W, 1 - py / H, text, rotation=rotation, ha="center", va="center",
             fontsize=LABEL_SIZE, family="Noto Sans", color="#222222", linespacing=0.95)


LABEL_SIZE = 12
fig = plt.figure(figsize=(W / 100, H / 100), dpi=100)

COLS = [(78.7, 215.3), (308, 445.3), (537.3, 674.3), (767.3, 904.3), (995.7, 1132.7), (1224, 1361.3)]
TOP = (56, 246.5)
TOP_MID = (54, 245)
BOT = (370.7, 560)
BOT_MID = (369.3, 559)


def b(col, row):
    return (COLS[col][0], row[0], COLS[col][1], row[1])


panel(b(0, TOP), (1.02, 8.36), (-1.5, 32.4), [2, 4, 6, 8], ["2", "4", "6", "8"],
      [0, 5, 10, 15, 20, 25, 30], ["0", "5", "10", "15", "20", "25", "30"],
      p1_x + p1_more_x, p1_y + p1_more_y, p1_loess_x, p1_loess_y, dense=[(p1_dense_x, p1_dense_y)], seg=(p1_seg_x, p1_seg_y), diag=True)
panel(b(1, TOP), (-0.8, 32.2), (-1.5, 32.4), [0, 5, 10, 15, 20, 25, 30], ["0", "", "10", "", "20", "", "30"],
      [0, 5, 10, 15, 20, 25, 30], ["0", "5", "10", "15", "20", "25", "30"],
      p2_x, p2_y, p2_loess_x, p2_loess_y, dense=[(p2_dense_x, p2_dense_y)], seg=(p2_seg_x, p2_seg_y), diag=True)
panel(b(2, TOP_MID), (4.8, 8.59), (2.99, 10.5), [5, 6, 7, 8], ["5", "6", "7", "8"],
      [4, 6, 8, 10], ["4", "6", "8", "10"],
      p3_x + p3_more_x, p3_y + p3_more_y, p3_loess_x, p3_loess_y, dense=[(p3_dense_x, p3_dense_y)], diag=True)
panel(b(3, TOP_MID), (2.92, 10.36), (2.99, 10.5), [4, 6, 8, 10], ["4", "6", "8", "10"],
      [4, 6, 8, 10], ["4", "6", "8", "10"],
      p4_x, p4_y, p4_loess_x, p4_loess_y, dense=[(p4_dense_x, p4_dense_y)], diag=True)
panel(b(4, TOP), (1.2, 20.96), (-2.8, 40.6), [5, 10, 15, 20], ["5", "10", "15", "20"],
      [0, 10, 20, 30, 40], ["0", "10", "20", "30", ""],
      p5_x + p5_more_x, p5_y + p5_more_y, p5_loess_x, p5_loess_y,
      dense=[(p5_dense_x, p5_dense_y), (p5_dense2_x, p5_dense2_y)], diag=True)
panel(b(5, TOP), (-0.14, 38.5), (-2.8, 40.6), [10, 20, 30], ["10", "20", "30"],
      [0, 10, 20, 30, 40], ["0", "10", "20", "30", ""],
      p6_x, p6_y, p6_loess_x, p6_loess_y, dense=[(p6_dense_x, p6_dense_y)], seg=(p6_seg_x, p6_seg_y), diag=True)

TIME_TICKS = [0, 20, 40, 60, 80]
TIME_LABELS = ["0", "20", "40", "60", "80"]
panel(b(0, BOT), (-0.72, 32.2), (-0.026, 0.40), [0, 5, 10, 15, 20, 25, 30], ["0", "", "10", "", "20", "", "30"],
      [0, 0.1, 0.2, 0.3], ["0.0", "0.1", "0.2", "0.3"],
      p7_x + p7_more_x, p7_y + p7_more_y, p7_loess_x, p7_loess_y, dense=[(p7_dense_x, p7_dense_y)])
panel(b(1, BOT), (-6, 89.8), (-4, 3.78), TIME_TICKS, TIME_LABELS, [-2, 0, 2], ["-2", "0", "2"],
      p8_x, p8_y, p8_loess_x, p8_loess_y, dense=[(p8_dense_x, p8_dense_y)], seg=(p8_seg_x, p8_seg_y), zero=True)
panel(b(2, BOT_MID), (2.87, 10.42), (-0.0036, 0.0553), [4, 6, 8, 10], ["4", "6", "8", "10"],
      [0, 0.01, 0.02, 0.03, 0.04, 0.05], ["0.00", "0.01", "0.02", "0.03", "0.04", "0.05"],
      p9_x + p9_more_x, p9_y + p9_more_y, p9_loess_x, p9_loess_y, dense=[(p9_dense_x, p9_dense_y)])
panel(b(3, BOT_MID), (-6, 89.8), (-3.44, 3.78), TIME_TICKS, TIME_LABELS, [-2, 0, 2], ["-2", "0", "2"],
      p10_x, p10_y, p10_loess_x, p10_loess_y, dense=[(p10_dense_x, p10_dense_y)], seg=(p10_seg_x, p10_seg_y), zero=True)
panel(b(4, BOT), (-0.05, 38.5), (-0.055, 0.838), [10, 20, 30], ["10", "20", "30"],
      [0, 0.2, 0.4, 0.6, 0.8], ["0.0", "0.2", "0.4", "0.6", "0.8"],
      p11_x + p11_more_x, p11_y + p11_more_y, p11_loess_x, p11_loess_y, dense=[(p11_dense_x, p11_dense_y)])
panel(b(5, BOT), (-6, 89.8), (-3.08, 4.87), TIME_TICKS, TIME_LABELS, [-2, 0, 2, 4], ["-2", "0", "2", "4"],
      p12_x, p12_y, p12_loess_x, p12_loess_y, dense=[(p12_dense_x, p12_dense_y)], seg=(p12_seg_x, p12_seg_y), zero=True)

# titles
label(266.7, 21, "Basic goodness-of-fit plots for the Ratio")
label(711.7, 21, "Basic goodness-of-fit plots for hippocampus volume")
label(1181.7, 21, "Basic goodness-of-fit plots for ADAS-cog")

# x labels
label(150, 309, "Population\npredictions")
label(375, 309, "Individual\npredictions")
label(606.5, 309, "Population\npredictions")
label(837, 309, "Individual\npredictions")
label(1066.5, 309, "Population\npredictions")
label(1295, 309, "Individual\npredictions")
label(144.5, 619, "Individual\npredictions")
label(374, 611, "Time")
label(606, 619, "Individual\npredictions")
label(842, 611, "Time")
label(1065.5, 619, "Individual\npredictions")
label(1298, 611, "Time")

# y labels
label(24.7, 158, "Observations", 90)
label(256.7, 158, "Observations", 90)
label(488, 158, "Observations", 90)
label(721, 158, "Observations", 90)
label(943, 158, "Observations", 90)
label(1176, 158, "Observations", 90)
label(22.7, 471.7, "|iWRES|", 90)
label(262, 468, "Conditional weighted\nresiduals", 90)
label(476.7, 470, "|iWRES|", 90)
label(722, 468, "Conditional weighted\nresiduals", 90)
label(941.7, 470, "|iWRES|", 90)
label(1180, 471.7, "Conditional weithted\nresiduals", 90)

fig.savefig("out.png", dpi=100)
